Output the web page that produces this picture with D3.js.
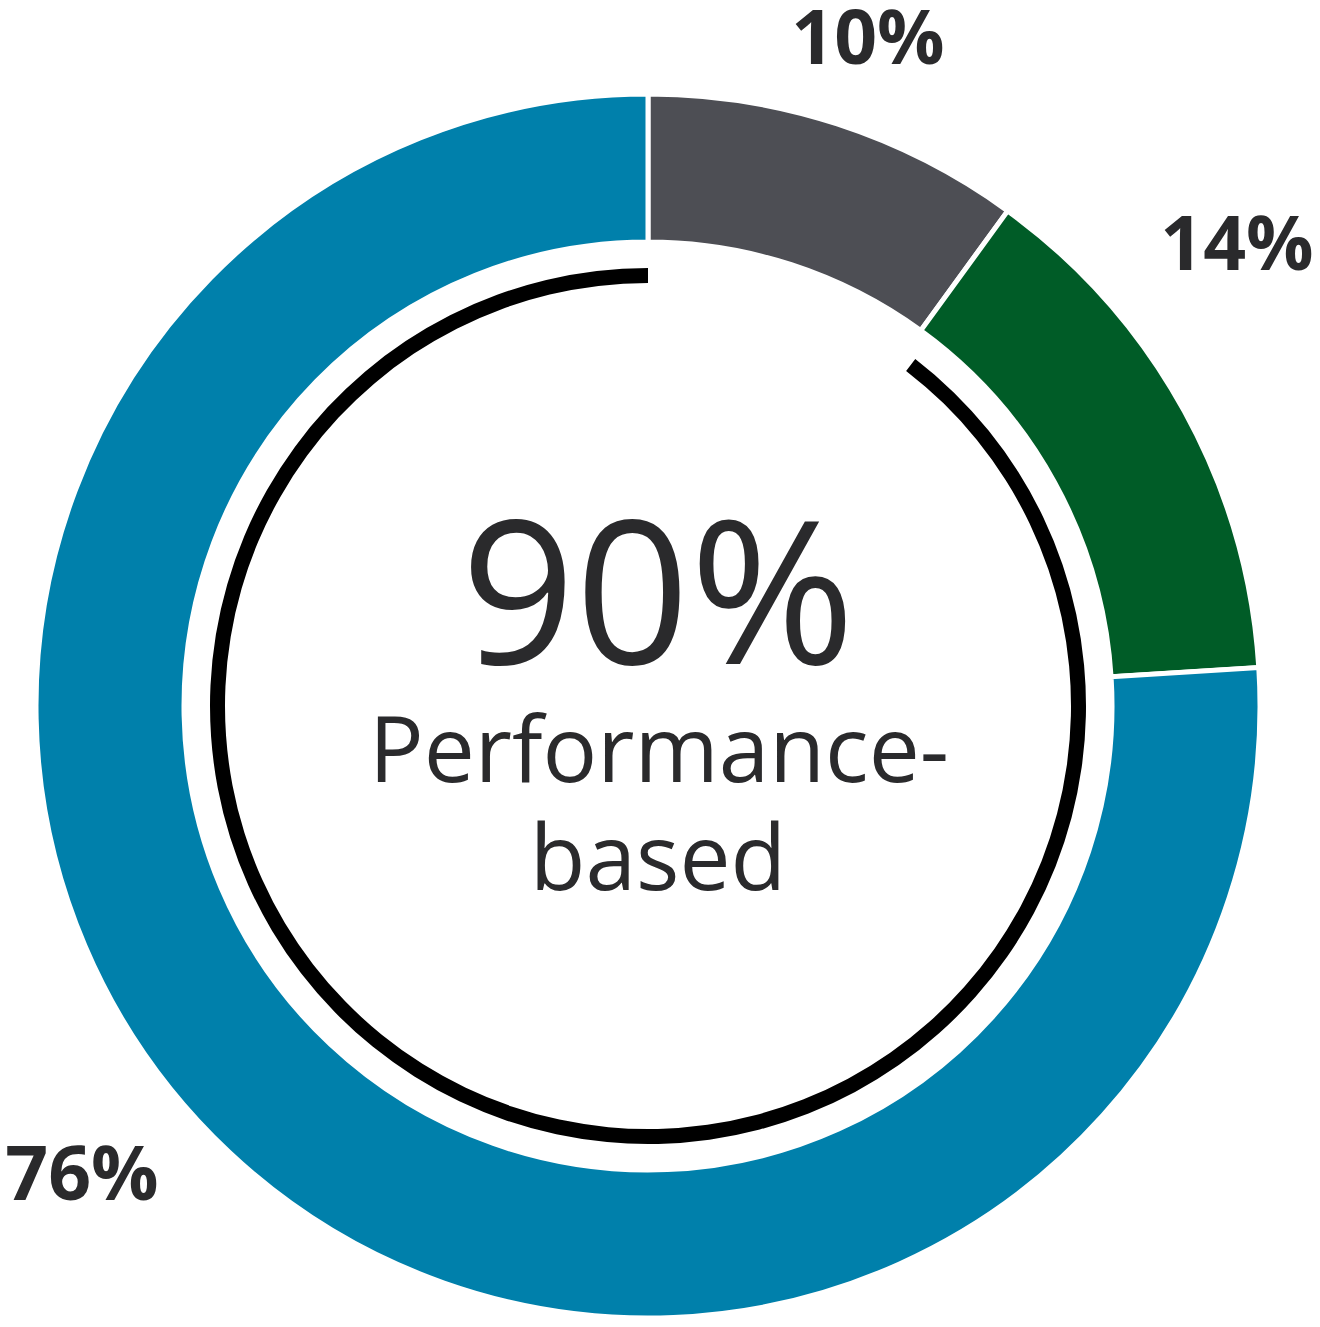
<!DOCTYPE html>
<html><head><meta charset="utf-8">
<script src="https://cdn.jsdelivr.net/npm/d3@7"></script>
<style>body{margin:0;background:#fff}</style>
</head><body>
<div id="root"></div>
<script>
// DATA
const categories = ["Other", "Green", "Blue"];
const values = [10, 14, 76];
const labels = ["10%", "14%", "76%"];
const colors = ["#4d4e54", "#005c27", "#0080ab"];
const highlight = 90;

const width = 1320, height = 1327;
const cx = 648, cy = 706;

const svg = d3.select("#root").append("svg")
  .attr("width", width).attr("height", height);
const g = svg.append("g").attr("transform", `translate(${cx},${cy})`);

const pie = d3.pie().sort(null).value(d => d);
const arcs = pie(values);
const arc = d3.arc().innerRadius(464).outerRadius(612);

g.selectAll("path.slice").data(arcs).enter().append("path")
  .attr("class", "slice")
  .attr("d", arc)
  .attr("fill", (d, i) => colors[i])
  .attr("stroke", "#fff").attr("stroke-width", 5);

// black arc covering performance-based share
const angle = d3.scaleLinear().domain([0, 100]).range([0, 2 * Math.PI]);
const ring = d3.arc().innerRadius(423).outerRadius(438);
g.append("path")
  .attr("d", ring({startAngle: angle(100 - highlight) + 0.028, endAngle: angle(100)}))
  .attr("fill", "#000");

// outer labels
const labelPos = [[868, 64], [1237, 270], [82, 1200]];
svg.selectAll("text.lbl").data(labels).enter().append("text")
  .attr("x", (d, i) => labelPos[i][0]).attr("y", (d, i) => labelPos[i][1])
  .attr("text-anchor", "middle")
  .attr("font-family", "Open Sans").attr("font-weight", 700)
  .attr("font-size", 75).attr("fill", "#2a2a2c")
  .text(d => d);

// center text
svg.append("text").attr("x", 658).attr("y", 664).attr("text-anchor", "middle")
  .attr("font-family", "Open Sans").attr("font-size", 200).attr("fill", "#2a2a2c")
  .text(highlight + "%");
svg.append("text").attr("x", 659).attr("y", 782).attr("text-anchor", "middle")
  .attr("font-family", "Open Sans").attr("font-size", 91).attr("fill", "#2a2a2c")
  .text("Performance-");
svg.append("text").attr("x", 658).attr("y", 890).attr("text-anchor", "middle")
  .attr("font-family", "Open Sans").attr("font-size", 91).attr("fill", "#2a2a2c")
  .text("based");
</script>
</body></html>
